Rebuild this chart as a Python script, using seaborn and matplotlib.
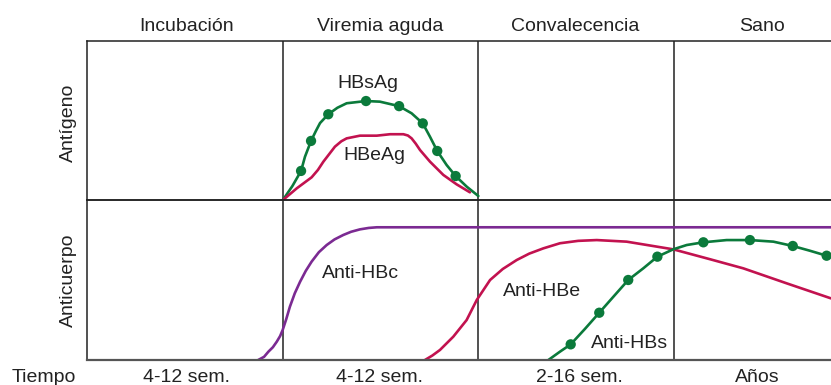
import matplotlib
matplotlib.use("Agg")
import matplotlib.pyplot as plt
import seaborn as sns
import pandas as pd

# ---------------- data (x in phase units: 0..1 Incubación, 1..2 Viremia, 2..3 Convalecencia, 3.. Sano)
phases = ["Incubación", "Viremia aguda", "Convalecencia", "Sano"]
durations = ["4-12 sem.", "4-12 sem.", "2-16 sem.", "Años"]

hbsag_x = [1.000, 1.050, 1.094, 1.114, 1.145, 1.170, 1.191, 1.233, 1.280, 1.327, 1.426, 1.497,
           1.595, 1.659, 1.716, 1.753, 1.790, 1.838, 1.884, 1.941, 2.000]
hbsag_y = [0.0, 9.0, 18.4, 27.3, 37.2, 43.5, 48.4, 53.9, 58.0, 60.8, 62.2, 61.8,
           59.0, 54.5, 48.2, 39.8, 30.9, 22.1, 15.2, 8.5, 2.7]
hbsag_dot_x = [1.094, 1.145, 1.233, 1.426, 1.595, 1.716, 1.790, 1.884]
hbsag_dot_y = [18.4, 37.2, 53.9, 62.2, 59.0, 48.2, 30.9, 15.2]

hbeag_x = [1.000, 1.072, 1.148, 1.180, 1.208, 1.267, 1.300, 1.327, 1.395, 1.481, 1.549, 1.617,
           1.640, 1.659, 1.680, 1.702, 1.753, 1.821, 1.889, 1.957]
hbeag_y = [0.0, 7.5, 14.4, 19.0, 24.2, 33.6, 37.0, 38.8, 40.5, 40.5, 41.4, 41.4,
           40.6, 38.8, 35.5, 31.5, 24.2, 15.9, 10.0, 5.0]

antihbc_x = [0.875, 0.905, 0.927, 0.950, 0.970, 0.987, 1.000, 1.018, 1.037, 1.062, 1.089,
             1.118, 1.148, 1.185, 1.225, 1.265, 1.310, 1.350, 1.395, 1.440, 1.481, 1.600, 3.802]
antihbc_y = [0.0, 2.0, 5.2, 8.0, 11.5, 15.0, 18.8, 25.5, 33.4, 41.8, 49.0,
             55.8, 61.6, 67.5, 72.0, 75.5, 78.3, 80.3, 81.8, 82.7, 83.1, 83.1, 83.1]

antihbe_x = [1.727, 1.765, 1.804, 1.872, 1.940, 1.992, 2.060, 2.125, 2.196, 2.260, 2.332,
             2.417, 2.510, 2.605, 2.758, 2.996, 3.184, 3.354, 3.576, 3.802]
antihbe_y = [0.0, 2.8, 6.3, 14.6, 25.0, 37.6, 50.1, 57.0, 62.6, 66.6, 69.9,
             73.1, 74.6, 75.1, 74.1, 69.3, 63.1, 57.4, 48.0, 38.6]

antihbs_x = [2.358, 2.417, 2.472, 2.545, 2.618, 2.690, 2.766, 2.843, 2.915, 2.996, 3.065,
             3.150, 3.269, 3.388, 3.508, 3.607, 3.695, 3.780, 3.802]
antihbs_y = [0.0, 5.2, 9.8, 19.5, 29.6, 39.6, 50.1, 57.4, 64.7, 69.3, 72.0,
             73.7, 75.1, 75.1, 74.1, 71.4, 68.4, 65.3, 64.7]
antihbs_dot_x = [2.472, 2.618, 2.766, 2.915, 3.150, 3.388, 3.607, 3.780]
antihbs_dot_y = [9.8, 29.6, 50.1, 64.7, 73.7, 75.1, 71.4, 65.3]

# ---------------- style
sns.set_theme(style="white")
plt.rcParams["font.family"] = ["Liberation Sans", "DejaVu Sans"]

GREEN = "#0b7a3b"
CRIMSON = "#c2124f"
PURPLE = "#7b2a92"
LINE = "#222222"
FS = 14

fig = plt.figure(figsize=(8.31, 3.85), dpi=100)
ax_top = fig.add_axes([87 / 831, (385 - 200.3) / 385, 1 - 87 / 831, (200.3 - 40.7) / 385])
ax_bot = fig.add_axes([87 / 831, (385 - 360) / 385, 1 - 87 / 831, (360 - 200.3) / 385])

XMAX = (831 - 87) / 195.67

def df(x, y):
    return pd.DataFrame({"x": x, "y": y})

# top panel: antigens
sns.lineplot(data=df(hbsag_x, hbsag_y), x="x", y="y", ax=ax_top, color=GREEN, lw=1.9)
sns.scatterplot(data=df(hbsag_dot_x, hbsag_dot_y), x="x", y="y", ax=ax_top,
                color=GREEN, s=55, edgecolor="none", zorder=5)
sns.lineplot(data=df(hbeag_x, hbeag_y), x="x", y="y", ax=ax_top, color=CRIMSON, lw=1.9)

# bottom panel: antibodies
sns.lineplot(data=df(antihbc_x, antihbc_y), x="x", y="y", ax=ax_bot, color=PURPLE, lw=1.9)
sns.lineplot(data=df(antihbe_x, antihbe_y), x="x", y="y", ax=ax_bot, color=CRIMSON, lw=1.9)
sns.lineplot(data=df(antihbs_x, antihbs_y), x="x", y="y", ax=ax_bot, color=GREEN, lw=1.9)
sns.scatterplot(data=df(antihbs_dot_x, antihbs_dot_y), x="x", y="y", ax=ax_bot,
                color=GREEN, s=55, edgecolor="none", zorder=5)

for ax in (ax_top, ax_bot):
    ax.set_xlim(0, XMAX)
    ax.set_ylim(0, 100)
    ax.set_xticks([])
    ax.set_yticks([])
    ax.set_xlabel("")
    ax.set_ylabel("")
    ax.patch.set_alpha(0)
    for s in ("left", "top", "bottom"):
        ax.spines[s].set_color(LINE)
        ax.spines[s].set_linewidth(1.1)
        ax.spines[s].set_visible(True)
    ax.spines["right"].set_visible(False)
    for xv in (1, 2, 3):
        ax.axvline(xv, color=LINE, lw=1.1, zorder=1)
    for line in ax.lines:
        line.set_solid_joinstyle("round")
        line.set_solid_capstyle("round")

ax_bot.spines["bottom"].set_color("#555555")
ax_bot.spines["bottom"].set_linewidth(1.6)

# inner labels
ax_top.text(1.435, 73.3, "HBsAg", fontsize=FS, ha="center", va="center", color="#222222")
ax_top.text(1.467, 27.8, "HBeAg", fontsize=FS, ha="center", va="center", color="#222222")
ax_bot.text(1.395, 54.3, "Anti-HBc", fontsize=FS, ha="center", va="center", color="#222222")
ax_bot.text(2.327, 43.2, "Anti-HBe", fontsize=FS, ha="center", va="center", color="#222222")
ax_bot.text(2.771, 10.5, "Anti-HBs", fontsize=FS, ha="center", va="center", color="#222222")

# phase titles and durations
phase_px = [187, 380, 575, 761.7]
for name, px in zip(phases, phase_px):
    fig.text(px / 831, (385 - 30.7) / 385, name, fontsize=FS, ha="center", va="baseline",
             color="#222222")
dur_px = [186.7, 380, 579.7, 757]
for name, px in zip(durations, dur_px):
    fig.text(px / 831, (385 - 381.5) / 385, name, fontsize=FS, ha="center", va="baseline",
             color="#222222")
fig.text(44 / 831, (385 - 381.5) / 385, "Tiempo", fontsize=FS, ha="center", va="baseline",
         color="#222222")

fig.text(68 / 831, (385 - 123) / 385, "Antígeno", fontsize=FS, rotation=90,
         ha="center", va="center", color="#222222")
fig.text(68 / 831, (385 - 280) / 385, "Anticuerpo", fontsize=FS, rotation=90,
         ha="center", va="center", color="#222222")

fig.savefig("out.png", dpi=100)
